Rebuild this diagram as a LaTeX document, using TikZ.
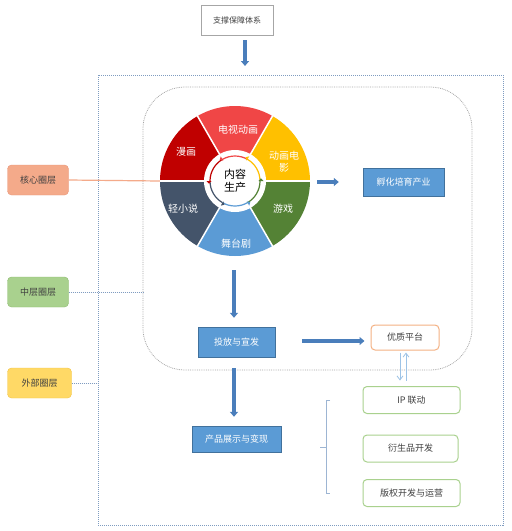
\documentclass[tikz,border=0pt]{standalone}
\usepackage{fontspec}
\setmainfont{Noto Sans CJK SC}
\usetikzlibrary{arrows.meta}
\definecolor{bfill}{HTML}{5B9BD5}
\definecolor{bdraw}{HTML}{41719C}
\definecolor{barr}{HTML}{4A7EBB}
\definecolor{salm}{HTML}{F4AA8A}
\definecolor{salmd}{HTML}{E8967A}
\definecolor{gfill}{HTML}{A9D18E}
\definecolor{gdraw}{HTML}{8CBB6E}
\definecolor{yfill}{HTML}{FFD966}
\definecolor{ydraw}{HTML}{F2C446}
\definecolor{outc}{HTML}{7F9CC0}
\definecolor{innc}{HTML}{A6A6A6}
\definecolor{brk}{HTML}{9DB5D3}
\definecolor{dbl}{HTML}{9DC3E6}
\definecolor{orng}{HTML}{F4B183}
\definecolor{txt}{HTML}{404040}
\definecolor{sRed}{HTML}{F04646}
\definecolor{sYel}{HTML}{FFC000}
\definecolor{sGrn}{HTML}{548235}
\definecolor{sBlu}{HTML}{5B9BD5}
\definecolor{sSla}{HTML}{44546A}
\definecolor{sDrd}{HTML}{C00000}
\tikzset{
  graybox/.style={draw=innc, fill=white, minimum width=72pt, minimum height=30pt, font=\fontsize{8}{10}\selectfont, text=txt, inner sep=0pt},
  bluebox/.style={draw=bdraw, fill=bfill, text=white, font=\fontsize{9}{11}\selectfont, inner sep=0pt},
  layerbox/.style={rounded corners=4pt, minimum width=61pt, minimum height=30pt, font=\fontsize{9}{11}\selectfont, text=txt, inner sep=0pt},
  greenbox/.style={draw=gfill, line width=1pt, fill=white, rounded corners=4pt, minimum width=97pt, minimum height=27pt, font=\fontsize{9}{11}\selectfont, text=txt, inner sep=0pt},
  barrow/.style={draw=barr, line width=3.5pt, -{Triangle[length=5pt,width=8pt]}},
  thinarrow/.style={draw=dbl, line width=0.8pt, -{Straight Barb[length=4pt,width=6pt]}},
  seglabel/.style={text=white, font=\fontsize{10}{12}\selectfont, inner sep=0pt, align=center},
}
\begin{document}
\begin{tikzpicture}[x=1pt,y=-1pt]
\useasboundingbox (0,0) rectangle (512,531);
\fill[white] (0,0) rectangle (512,531);

% outer dotted rectangle
\draw[outc, densely dotted, line width=1pt] (98,75) rectangle (503,525);
% inner rounded rectangle
\draw[innc, densely dotted, line width=0.8pt, rounded corners=42pt] (143,87) rectangle (472,370);

% top box
\node[graybox, minimum width=72pt, minimum height=30pt] (support) at (237,20) {支撑保障体系};
\coordinate (outtop) at (245,66);
\coordinate (st) at ([yshift=-5pt]support.south -| outtop);
\draw[barrow] (st) -- (outtop);

% wheel
\node[circle, minimum size=150pt, inner sep=0pt] (wheel) at (235,181) {};
\begin{scope}[shift={(235,181)}, yscale=-1]
  \fill[sYel] (0,0) -- (0:75) arc (0:60:75) -- cycle;
  \fill[sRed] (0,0) -- (60:75) arc (60:120:75) -- cycle;
  \fill[sDrd] (0,0) -- (120:75) arc (120:180:75) -- cycle;
  \fill[sSla] (0,0) -- (180:75) arc (180:240:75) -- cycle;
  \fill[sBlu] (0,0) -- (240:75) arc (240:300:75) -- cycle;
  \fill[sGrn] (0,0) -- (300:75) arc (300:360:75) -- cycle;
  \foreach \a in {0,60,...,300} \draw[white, line width=1.5pt] (0,0) -- (\a:75.5);
  \fill[white] (0,0) circle (31);
  \draw[sYel, line width=1.2pt] (0:25) arc (0:60:25);
  \draw[sRed, line width=1.2pt] (60:25) arc (60:120:25);
  \draw[sDrd, line width=1.2pt] (120:25) arc (120:180:25);
  \draw[sSla, line width=1.2pt] (180:25) arc (180:240:25);
  \draw[sBlu, line width=1.2pt] (240:25) arc (240:300:25);
  \draw[sGrn, line width=1.2pt] (300:25) arc (300:360:25);
  \foreach \a/\c in {0/sGrn,60/sYel,120/sRed,180/sDrd,240/sSla,300/sBlu}
    \fill[\c] (\a:23.5) -- (\a:28.5) -- ({\a+6}:26) -- cycle;
\end{scope}
\node[seglabel] (l1) at (238,130) {电视动画};
\node[seglabel] (l2) at (284,162) {动画电\\影};
\node[seglabel] (l3) at (283,209) {游戏};
\node[seglabel] (l4) at (236,244) {舞台剧};
\node[seglabel] (l5) at (183,209) {轻小说};
\node[seglabel] (l6) at (186,152) {漫画};
\node[text=black, font=\fontsize{11}{13}\selectfont, align=center, inner sep=0pt] (core) at (235,181) {内容\\生产};

% layer boxes
\node[layerbox, draw=salmd, fill=salm] (klayer) at (38,180) {核心圈层};
\node[layerbox, draw=gdraw, fill=gfill] (mlayer) at (38,292) {中层圈层};
\node[layerbox, draw=ydraw, fill=yfill, minimum width=64pt] (olayer) at (39.5,383) {外部圈层};
\draw[salm, line width=1.2pt] (klayer.east) -- (wheel.west);
\coordinate (innl) at (143,292);
\draw[outc, densely dotted, line width=1pt] (mlayer.east) -- (innl);
\coordinate (outl) at (98,383);
\draw[outc, densely dotted, line width=1pt] (olayer.east) -- (outl);

% right side
\node[bluebox, minimum width=81pt, minimum height=28pt] (fuhua) at (403.5,182) {孵化培育产业};
\draw[barrow] ([xshift=7pt]wheel.east |- fuhua.west) -- ([xshift=-24pt]fuhua.west);

\node[bluebox, minimum width=77pt, minimum height=30pt] (toufang) at (236.5,342) {投放与宣发};
\draw[barrow] ([yshift=-14pt]wheel.south -| 234,0) -- ([yshift=9pt]toufang.north -| 234,0);

\node[draw=orng, line width=1pt, fill=white, rounded corners=4pt, minimum width=68pt, minimum height=25pt, font=\fontsize{9}{11}\selectfont, text=txt, inner sep=0pt] (youzhi) at (405,337.5) {优质平台};
\draw[barrow] ([xshift=27pt]toufang.east |- 0,341) -- ([xshift=-6pt]youzhi.west |- 0,341);

\node[bluebox, minimum width=89pt, minimum height=26pt] (chanpin) at (236.5,439) {产品展示与变现};
\draw[barrow] ([yshift=-11pt]toufang.south -| 234,0) -- ([yshift=9pt]chanpin.north -| 234,0);

\node[greenbox] (ip) at (411.5,400) {IP 联动};
\node[greenbox, minimum width=95pt] (yan) at (410.5,448.5) {衍生品开发};
\node[greenbox] (ban) at (411.5,493) {版权开发与运营};

\draw[thinarrow] ([xshift=-5pt,yshift=-2pt]youzhi.south) -- ([xshift=-5pt,yshift=-30pt]youzhi.south);
\draw[thinarrow] ([xshift=1pt,yshift=-30pt]youzhi.south) -- ([xshift=1pt,yshift=-2pt]youzhi.south);

% bracket
\coordinate (bt) at (330,400);
\coordinate (bb) at (330,493);
\coordinate (bm) at (320,447);
\draw[brk, line width=0.8pt] (bt) -- (326,400) -- (326,493) -- (bb);
\draw[brk, line width=0.8pt] (326,447) -- (bm);
\end{tikzpicture}
\end{document}
